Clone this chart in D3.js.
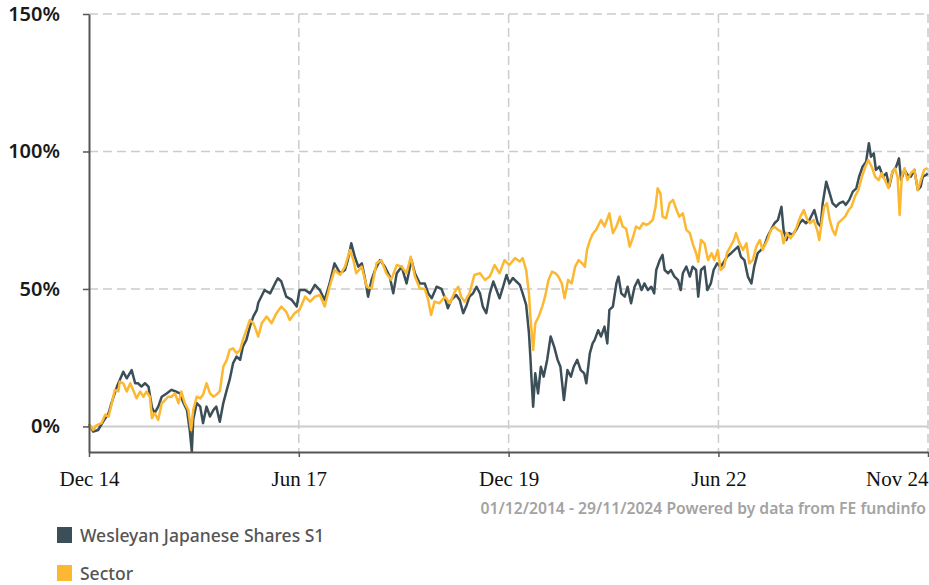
<!DOCTYPE html>
<html>
<head>
<meta charset="utf-8">
<script src="https://cdn.jsdelivr.net/npm/d3@7"></script>
<style>
  html, body { margin: 0; padding: 0; background: #fff; }
  svg { display: block; }
</style>
</head>
<body>
<svg id="chart" width="929" height="585"></svg>
<script>
// Cumulative performance, Dec 2014 - Nov 2024 (months since 1 Dec 2014, % return)
const startDate = new Date(2014, 11, 1);
const endDate = new Date(2024, 10, 29);

const fundName = "Wesleyan Japanese Shares S1";
const sectorName = "Sector";

const fundMonths = [0,0.6,1.3,2.0,2.8,3.2,4.0,4.4,4.9,5.4,6.1,6.6,7.0,7.5,8.0,8.5,9.0,9.4,9.9,10.4,11.1,11.8,12.3,13.0,13.5,14.0,14.4,14.7,14.9,15.4,15.9,16.3,16.8,17.3,17.8,18.2,18.7,19.2,19.7,20.1,20.6,21.1,21.6,22.0,22.5,23.0,23.5,24.0,24.2,25.1,25.9,26.6,27.0,27.5,28.2,29.0,29.7,30.1,30.9,31.6,32.3,33.0,33.7,34.4,35.1,35.9,36.6,37.0,37.5,38.0,38.5,39.0,39.4,39.9,40.4,40.9,41.6,42.3,43.0,43.5,44.0,44.7,45.4,46.1,46.6,47.3,48.0,48.5,49.0,49.7,50.4,50.9,51.3,51.8,52.5,53.0,53.5,54.0,54.4,54.9,55.4,55.9,56.3,56.8,57.3,57.8,58.2,58.7,59.2,59.7,60.1,60.6,61.1,61.6,62.0,62.5,62.9,63.1,63.3,63.5,63.8,64.2,64.6,65.0,65.5,66.0,66.5,67.0,67.4,67.9,68.4,68.9,69.3,69.8,70.3,70.8,71.1,71.6,72.0,72.3,72.8,73.2,73.7,74.1,74.4,74.9,75.4,75.7,76.1,76.6,77.0,77.5,78.0,78.5,79.0,79.4,79.9,80.4,80.8,81.1,81.6,82.0,82.3,82.8,83.2,83.7,84.2,84.6,84.9,85.4,85.9,86.3,86.8,87.1,87.5,88.0,88.4,88.9,89.3,89.8,90.3,90.8,91.2,91.8,92.3,92.8,93.2,93.7,94.2,94.7,95.1,95.6,96.1,96.6,97.0,97.5,98.0,98.5,99.0,99.3,99.7,100.1,100.6,101.1,101.6,102.0,102.5,103.0,103.7,104.2,104.6,104.9,105.4,105.9,106.3,106.8,107.3,107.8,108.2,108.7,109.2,109.7,110.1,110.6,111.1,111.5,111.8,112.2,112.5,113.0,113.5,114.0,114.4,114.9,115.4,115.8,116.1,116.6,117.0,117.5,118.0,118.5,118.9,119.2,119.7,119.9];
const fundReturns = [0.8,-1.9,-1.3,1.7,4.8,8.4,14.5,16.9,19.9,17.5,20.5,15.7,15.7,14.5,15.7,14.5,7.0,4.9,7.2,10.8,12.0,13.3,12.8,12.0,8.5,6.0,-1.3,-9.2,2.4,8.5,7.2,1.2,7.2,3.6,6.0,7.2,1.7,8.5,13.3,16.9,23.0,25.4,24.2,29.0,31.5,36.3,40.0,42.4,45.0,49.6,48.4,52.0,53.9,52.7,47.2,46.0,43.6,49.6,49.6,48.4,51.5,49.6,46.0,52.0,59.3,55.7,56.9,60.5,66.6,61.7,58.1,59.3,54.5,47.2,53.3,56.9,60.5,58.1,54.5,48.4,55.7,58.1,52.0,60.5,55.7,52.0,52.0,48.4,46.6,50.8,50.0,46.6,43.0,46.0,47.8,46.0,41.2,44.2,47.2,48.4,50.8,48.4,43.6,41.2,48.4,52.7,50.0,46.6,50.8,55.1,52.0,54.0,52.7,51.5,48.4,44.2,33.9,25.4,15.7,7.2,19.3,12.0,21.7,18.1,24.2,32.7,29.0,24.2,21.7,9.6,20.5,18.1,21.7,24.2,20.5,19.3,15.7,26.6,30.2,31.5,35.0,32.7,36.3,30.2,42.4,43.6,52.0,54.5,48.4,47.2,50.8,44.8,50.8,53.3,49.6,52.0,49.6,50.8,48.4,56.9,60.5,62.4,56.9,55.7,56.9,54.5,53.3,49.6,55.7,58.1,54.5,58.1,56.9,47.2,56.9,58.1,49.6,52.0,56.9,59.3,58.1,59.9,61.7,63.0,64.2,65.4,61.7,60.5,54.5,52.0,58.1,63.0,64.2,66.0,69.0,71.5,73.9,75.1,79.9,71.5,67.8,70.3,69.7,71.5,73.9,75.1,73.9,75.1,78.7,73.9,72.7,81.2,89.0,84.8,81.2,79.9,81.2,81.8,80.6,82.4,85.4,86.6,90.8,94.5,96.3,103.0,98.1,99.3,93.3,94.5,90.8,92.1,87.2,92.7,94.5,97.5,89.6,93.3,91.5,90.8,93.3,86.0,87.2,90.8,91.5,92.0];

const sectorMonths = [0,0.6,1.1,1.8,2.3,2.8,3.2,3.7,4.2,4.4,4.9,5.4,5.9,6.3,6.8,7.3,7.8,8.2,8.7,9.0,9.4,9.9,10.4,10.9,11.3,11.8,12.3,12.8,13.2,13.7,14.2,14.6,14.9,15.4,15.9,16.3,16.8,17.3,17.8,18.2,18.7,19.2,19.7,20.1,20.6,21.1,21.6,22.0,22.5,23.0,23.5,23.7,24.2,24.7,25.4,26.1,26.8,27.5,28.2,28.7,29.4,30.1,30.9,31.6,32.3,33.0,33.7,34.4,35.1,35.9,36.6,37.3,37.8,38.2,39.0,39.7,40.4,41.1,41.8,42.5,43.2,44.0,44.7,45.4,46.0,46.6,47.3,48.0,48.5,48.9,49.4,50.1,50.9,51.6,52.3,52.8,53.2,53.7,54.4,55.1,55.9,56.6,57.3,58.0,58.7,59.4,60.1,60.9,61.6,62.0,62.5,62.9,63.1,63.5,63.8,64.3,64.8,65.2,65.7,66.2,66.7,67.1,67.6,68.0,68.5,69.0,69.5,70.0,70.5,70.9,71.2,71.6,72.0,72.5,73.2,73.7,74.4,74.9,75.4,75.9,76.3,76.8,77.3,77.8,78.2,78.7,79.2,79.7,80.1,80.6,81.0,81.3,81.7,82.0,82.5,83.0,83.5,84.0,84.4,84.9,85.4,85.9,86.3,86.8,87.1,87.5,88.0,88.5,89.0,89.4,89.9,90.3,90.8,91.2,91.7,92.2,92.5,93.0,93.5,94.0,94.4,94.9,95.4,95.9,96.3,97.0,97.5,98.0,98.5,99.0,99.3,99.8,100.3,100.8,101.2,101.7,102.2,102.7,103.1,103.6,104.1,104.4,104.8,105.1,105.5,105.9,106.3,106.7,107.1,107.6,108.1,108.6,109.0,109.5,110.0,110.5,111.0,111.4,111.9,112.4,112.9,113.3,113.8,114.3,114.8,115.2,115.6,115.9,116.2,116.6,117.0,117.5,118.0,118.5,119.0,119.4,119.9];
const sectorReturns = [0.8,-1.3,0.5,1.2,4.2,3.6,7.8,13.3,12.8,16.3,15.7,12.7,15.7,13.3,10.2,12.7,10.8,12.7,10.8,3.0,4.8,2.4,8.4,9.6,10.8,10.8,12.0,8.4,12.7,8.4,6.0,-1.3,6.0,10.8,10.2,11.5,15.7,12.0,10.8,11.5,12.8,21.7,24.2,27.8,28.4,26.6,27.8,31.5,35.0,38.7,37.5,36.3,32.7,37.5,40.0,37.5,41.2,43.6,41.7,38.7,41.2,42.4,47.2,45.4,47.2,47.8,43.6,50.8,56.9,55.1,58.1,64.2,60.5,55.7,58.1,50.8,50.2,59.3,60.5,55.7,53.3,58.7,58.1,55.7,61.7,54.5,50.2,50.0,46.0,40.5,45.4,44.8,47.2,44.8,49.0,50.8,47.2,45.4,48.4,55.1,55.7,53.3,54.5,58.7,55.7,60.5,58.7,61.2,60.0,61.2,56.9,48.4,40.0,27.8,37.5,40.0,43.6,47.2,53.3,56.3,55.7,54.5,52.0,46.6,53.3,52.0,58.1,60.5,59.3,58.1,64.2,67.5,70.0,71.5,75.1,72.7,77.5,70.3,72.7,76.3,72.7,71.9,65.4,69.0,72.7,71.9,73.9,73.3,73.9,75.1,79.9,86.6,84.8,76.3,75.7,81.2,82.4,78.7,76.3,77.5,71.5,70.3,66.6,63.0,59.9,67.8,66.6,60.5,63.0,60.5,64.2,56.9,58.1,63.0,65.4,67.8,70.3,66.6,64.2,66.6,59.3,60.5,65.4,67.8,64.2,67.8,71.5,72.7,71.5,70.8,66.6,70.3,68.4,70.3,72.7,76.3,78.7,75.1,73.9,75.1,71.5,67.8,75.1,79.9,81.2,75.1,71.5,69.6,73.9,75.1,76.3,78.7,79.9,83.6,86.0,90.8,94.5,96.9,94.5,90.8,89.6,92.1,89.6,86.6,92.1,93.9,90.8,76.9,90.8,93.9,89.6,92.1,93.3,86.0,90.1,93.3,94.0];

const yTicks = [0, 50, 100, 150];
const xTickDates = [new Date(2014, 11, 1), new Date(2017, 5, 1), new Date(2019, 11, 1), new Date(2022, 5, 1), endDate];
const xTickLabels = ["Dec 14", "Jun 17", "Dec 19", "Jun 22", "Nov 24"];
const footerText = "01/12/2014 - 29/11/2024 Powered by data from FE fundinfo";

const colors = { fund: "#3c4f58", sector: "#fbb830" };

const svg = d3.select("#chart");
const plot = { left: 89, right: 928, top: 14, bottom: 452 };

const x = d3.scaleTime().domain([startDate, endDate]).range([plot.left, plot.right]);
const y = d3.scaleLinear().domain([-9.3, 150]).range([plot.bottom, plot.top]);

const monthToDate = m => new Date(startDate.getTime() + m * 30.4375 * 864e5);
const toSeries = (months, values) => months.map((m, i) => ({ date: monthToDate(m), value: values[i] }));

// Grid
const grid = svg.append("g");
grid.selectAll("line.h").data(yTicks.filter(d => d !== 0)).join("line")
  .attr("x1", plot.left).attr("x2", plot.right)
  .attr("y1", d => y(d)).attr("y2", d => y(d))
  .attr("stroke", "#cccccc").attr("stroke-width", 1.5).attr("stroke-dasharray", "9,5");
grid.selectAll("line.v").data(xTickDates.slice(1)).join("line")
  .attr("x1", d => x(d)).attr("x2", d => x(d))
  .attr("y1", plot.top).attr("y2", plot.bottom)
  .attr("stroke", "#cccccc").attr("stroke-width", 1.5).attr("stroke-dasharray", "9,5");
grid.append("line")
  .attr("x1", plot.left).attr("x2", plot.right)
  .attr("y1", y(0)).attr("y2", y(0))
  .attr("stroke", "#cccccc").attr("stroke-width", 2);

// Series
const line = d3.line().x(d => x(d.date)).y(d => y(d.value)).curve(d3.curveLinear);
svg.append("path").datum(toSeries(fundMonths, fundReturns))
  .attr("fill", "none").attr("stroke", colors.fund).attr("stroke-width", 2.5)
  .attr("stroke-linejoin", "round").attr("d", line);
svg.append("path").datum(toSeries(sectorMonths, sectorReturns))
  .attr("fill", "none").attr("stroke", colors.sector).attr("stroke-width", 2.5)
  .attr("stroke-linejoin", "round").attr("d", line);

// Axes
const yAxis = svg.append("g").attr("transform", `translate(${plot.left},0)`)
  .call(d3.axisLeft(y).tickValues(yTicks).tickSize(6).tickSizeOuter(0).tickPadding(23).tickFormat(d => d + "%"));
yAxis.select(".domain").attr("stroke", "#555").attr("stroke-width", 2);
yAxis.selectAll(".tick line").attr("stroke", "#555").attr("stroke-width", 1.5);
yAxis.selectAll(".tick text")
  .attr("font-family", "'Noto Sans', 'Open Sans', sans-serif").attr("font-weight", 600)
  .attr("font-size", 20).attr("fill", "#1a1a1a");

const xAxis = svg.append("g").attr("transform", `translate(0,${plot.bottom})`)
  .call(d3.axisBottom(x).tickValues(xTickDates).tickSize(5).tickSizeOuter(0).tickPadding(14)
    .tickFormat((d, i) => xTickLabels[i]));
xAxis.select(".domain").attr("stroke", "#555").attr("stroke-width", 2);
xAxis.selectAll(".tick line").attr("stroke", "#555").attr("stroke-width", 1.5);
xAxis.selectAll(".tick text")
  .attr("font-family", "'Liberation Serif', 'Times New Roman', serif")
  .attr("font-size", 21).attr("fill", "#111")
  .attr("text-anchor", (d, i) => i === xTickLabels.length - 1 ? "end" : "middle");

// Footer
svg.append("text").attr("x", 926).attr("y", 514).attr("text-anchor", "end")
  .attr("font-family", "'Noto Sans', 'Open Sans', sans-serif").attr("font-weight", 600)
  .attr("font-size", 15.7).attr("fill", "#a3a3a3").text(footerText);

// Legend
const legend = svg.append("g");
const items = [{ name: fundName, color: colors.fund }, { name: sectorName, color: colors.sector }];
items.forEach((it, i) => {
  const g = legend.append("g").attr("transform", `translate(57,${527 + i * 38})`);
  g.append("rect").attr("width", 15).attr("height", 16).attr("fill", it.color);
  g.append("text").attr("x", 23).attr("y", 15)
    .attr("font-family", "'Noto Sans', 'Open Sans', sans-serif").attr("font-weight", 500)
    .attr("font-size", 17.5).attr("fill", "#555").text(it.name);
});
</script>
</body>
</html>
